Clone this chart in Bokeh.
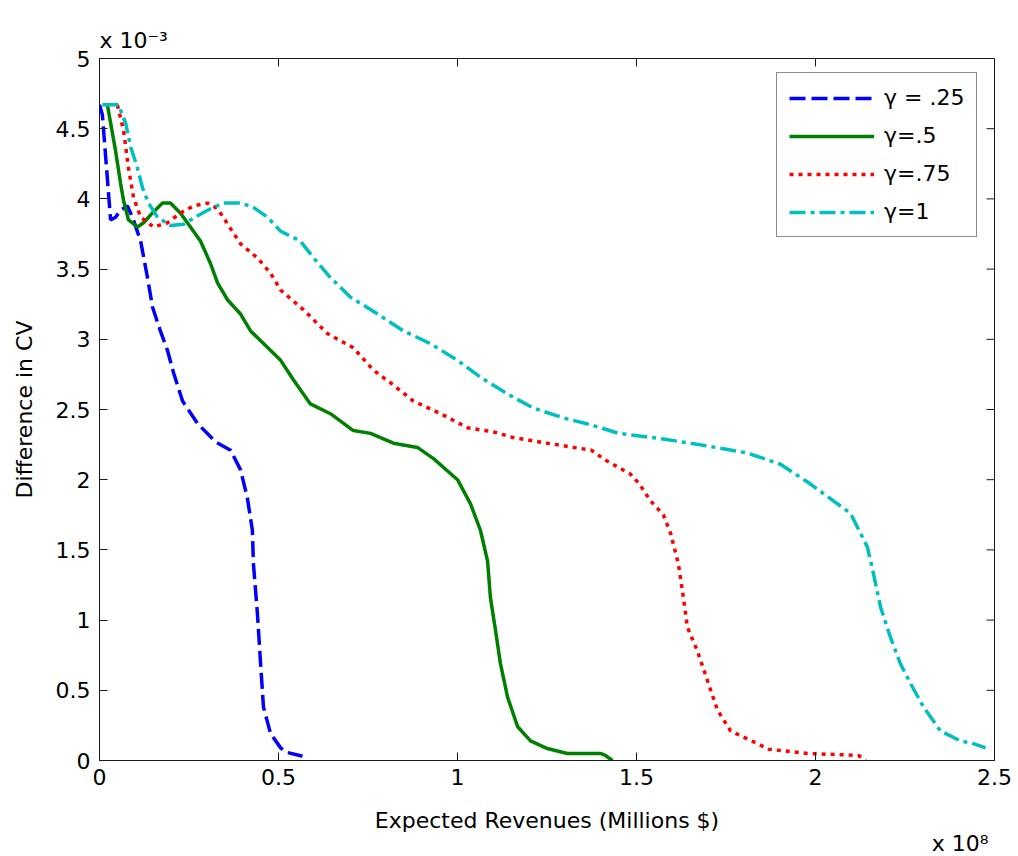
import math
from bokeh.plotting import figure
from bokeh.models import (FixedTicker, Legend, LegendItem, Title, Range1d)
from bokeh.embed import file_html
from bokeh.resources import INLINE

# ---- data (x in units of 1e8, y in units of 1e-3) ----
x_g025 = [0.0, 0.008, 0.031, 0.045, 0.059, 0.078, 0.092, 0.115, 0.120, 0.134, 0.148, 0.170,
          0.190, 0.207, 0.232, 0.274, 0.324, 0.366, 0.394, 0.413, 0.427, 0.430, 0.441, 0.450,
          0.458, 0.478, 0.506, 0.520, 0.559, 0.567]
y_g025 = [4.67, 4.60, 3.85, 3.87, 3.92, 3.95, 3.87, 3.70, 3.63, 3.44, 3.23, 3.06,
          2.92, 2.76, 2.56, 2.40, 2.27, 2.21, 2.07, 1.87, 1.64, 1.40, 1.05, 0.69,
          0.38, 0.19, 0.09, 0.06, 0.036, 0.03]

x_g05 = [0.022, 0.045, 0.059, 0.067, 0.081, 0.106, 0.123, 0.148, 0.176, 0.198, 0.226, 0.254,
         0.282, 0.310, 0.330, 0.358, 0.394, 0.422, 0.466, 0.506, 0.542, 0.589, 0.645, 0.709,
         0.757, 0.821, 0.888, 0.933, 1.000, 1.036, 1.064, 1.084, 1.092, 1.106, 1.120, 1.140,
         1.168, 1.204, 1.251, 1.307, 1.399, 1.413, 1.433]
y_g05 = [4.67, 4.34, 4.11, 3.99, 3.85, 3.80, 3.83, 3.90, 3.97, 3.97, 3.90, 3.80,
         3.70, 3.54, 3.40, 3.28, 3.18, 3.06, 2.95, 2.85, 2.71, 2.54, 2.47, 2.35,
         2.33, 2.26, 2.23, 2.15, 2.00, 1.83, 1.64, 1.42, 1.16, 0.93, 0.69, 0.45,
         0.24, 0.14, 0.085, 0.05, 0.05, 0.036, 0.0]

x_g075 = [0.050, 0.067, 0.081, 0.095, 0.115, 0.151, 0.190, 0.226, 0.263, 0.302, 0.330, 0.358,
          0.394, 0.441, 0.478, 0.506, 0.570, 0.637, 0.709, 0.765, 0.813, 0.877, 0.953, 1.028,
          1.101, 1.156, 1.251, 1.374, 1.413, 1.483, 1.508, 1.539, 1.575, 1.595, 1.617, 1.631,
          1.642, 1.670, 1.698, 1.726, 1.763, 1.838, 1.870, 1.978, 2.120, 2.140]
y_g075 = [4.67, 4.49, 4.22, 4.01, 3.87, 3.80, 3.83, 3.90, 3.95, 3.97, 3.93, 3.82,
          3.68, 3.58, 3.47, 3.35, 3.21, 3.04, 2.94, 2.78, 2.69, 2.56, 2.47, 2.37,
          2.34, 2.30, 2.26, 2.21, 2.14, 2.04, 1.97, 1.85, 1.75, 1.62, 1.40, 1.16,
          0.95, 0.78, 0.57, 0.36, 0.21, 0.12, 0.08, 0.05, 0.036, 0.0]

x_g1 = [0.008, 0.053, 0.073, 0.087, 0.106, 0.120, 0.137, 0.162, 0.198, 0.235, 0.274, 0.310,
        0.346, 0.394, 0.430, 0.469, 0.506, 0.561, 0.598, 0.645, 0.701, 0.777, 0.849, 0.924,
        1.000, 1.064, 1.140, 1.212, 1.296, 1.374, 1.450, 1.575, 1.698, 1.810, 1.902, 1.980,
        2.098, 2.145, 2.162, 2.182, 2.209, 2.237, 2.265, 2.302, 2.349, 2.405, 2.441, 2.475]
y_g1 = [4.67, 4.67, 4.54, 4.37, 4.22, 4.08, 3.97, 3.87, 3.81, 3.82, 3.88, 3.93,
        3.97, 3.97, 3.94, 3.87, 3.77, 3.70, 3.58, 3.44, 3.30, 3.18, 3.06, 2.97,
        2.85, 2.73, 2.61, 2.51, 2.44, 2.39, 2.33, 2.29, 2.24, 2.19, 2.11, 1.98,
        1.76, 1.52, 1.33, 1.09, 0.88, 0.69, 0.55, 0.38, 0.21, 0.14, 0.12, 0.09]

x_ticks = [0, 0.5, 1, 1.5, 2, 2.5]
x_tick_labels = ["0", "0.5", "1", "1.5", "2", "2.5"]
y_ticks = [0, 0.5, 1, 1.5, 2, 2.5, 3, 3.5, 4, 4.5, 5]
y_tick_labels = ["0", "0.5", "1", "1.5", "2", "2.5", "3", "3.5", "4", "4.5", "5"]

series_labels = ["\u03b3 = .25", "\u03b3=.5", "\u03b3=.75", "\u03b3=1"]
x_title = "Expected Revenues (Millions $)"
y_title = "Difference in CV"
y_exponent = "x 10\u207b\u00b3"
x_exponent = "x 10\u2078"

FONT = "DejaVu Sans"
AX = "#1a1a1a"

p = figure(width=1018, height=856, output_backend="svg", toolbar_location=None,
           x_range=Range1d(0, 2.5), y_range=Range1d(0, 5),
           min_border_left=99, min_border_right=24, min_border_top=58, min_border_bottom=96,
           background_fill_color="white", border_fill_color="white")
p.xgrid.visible = False
p.ygrid.visible = False
p.outline_line_color = AX
p.outline_line_width = 1

def style_axis(ax, ticks, labels):
    ax.ticker = FixedTicker(ticks=ticks)
    ax.major_label_overrides = {t: l for t, l in zip(ticks, labels)}
    ax.major_tick_in = 8
    ax.major_tick_out = 0
    ax.minor_tick_in = 0
    ax.minor_tick_out = 0
    ax.axis_line_color = AX
    ax.major_tick_line_color = AX
    ax.major_label_text_font = FONT
    ax.major_label_text_font_size = "22px"
    ax.major_label_text_color = "black"
    ax.axis_label_text_font = FONT
    ax.axis_label_text_font_size = "22px"
    ax.axis_label_text_font_style = "normal"
    ax.axis_label_text_color = "black"

style_axis(p.xaxis[0], x_ticks, x_tick_labels)
style_axis(p.yaxis[0], y_ticks, y_tick_labels)
p.xaxis[0].axis_label = x_title
p.yaxis[0].axis_label = y_title
p.xaxis[0].major_label_standoff = 8
p.yaxis[0].major_label_standoff = 9
p.xaxis[0].axis_label_standoff = 20
p.yaxis[0].axis_label_standoff = 16

# inward ticks on the top and right edges of the box
p.ray(x=x_ticks, y=[y_ticks[-1]] * len(x_ticks), length=8, length_units="screen",
      angle=-math.pi / 2, line_color=AX, line_width=1)
p.ray(x=[x_ticks[-1]] * len(y_ticks), y=y_ticks, length=8, length_units="screen",
      angle=math.pi, line_color=AX, line_width=1)

r1 = p.line(x_g025, y_g025, line_color="#0000ff", line_width=3.5, line_dash="16 6")
r2 = p.line(x_g05, y_g05, line_color="#008000", line_width=3.5)
r3 = p.line(x_g075, y_g075, line_color="#ff0000", line_width=3.5, line_dash="4 5")
r4 = p.line(x_g1, y_g1, line_color="#00bfbf", line_width=3.5, line_dash="16 5 4 5")

legend = Legend(items=[LegendItem(label=series_labels[0], renderers=[r1]),
                       LegendItem(label=series_labels[1], renderers=[r2]),
                       LegendItem(label=series_labels[2], renderers=[r3]),
                       LegendItem(label=series_labels[3], renderers=[r4])],
                location=(677, 523))
legend.glyph_width = 85
legend.glyph_height = 20
legend.label_height = 20
legend.label_standoff = 10
legend.spacing = 13
legend.padding = 12
legend.margin = 0
legend.border_line_color = AX
legend.border_line_width = 1
legend.background_fill_color = "white"
legend.label_text_font = FONT
legend.label_text_font_size = "22px"
legend.label_text_color = "black"
p.add_layout(legend, "center")

# exponent notes
top_note = Title(text=y_exponent, align="left", text_font=FONT, text_font_size="22px",
                 text_font_style="normal", text_color="black", standoff=12)
p.add_layout(top_note, "above")
bottom_note = Title(text=x_exponent, align="right", text_font=FONT, text_font_size="22px",
                    text_font_style="normal", text_color="black", standoff=-14, offset=6)
p.add_layout(bottom_note, "below")

open("out.html", "w").write(file_html(p, INLINE))
